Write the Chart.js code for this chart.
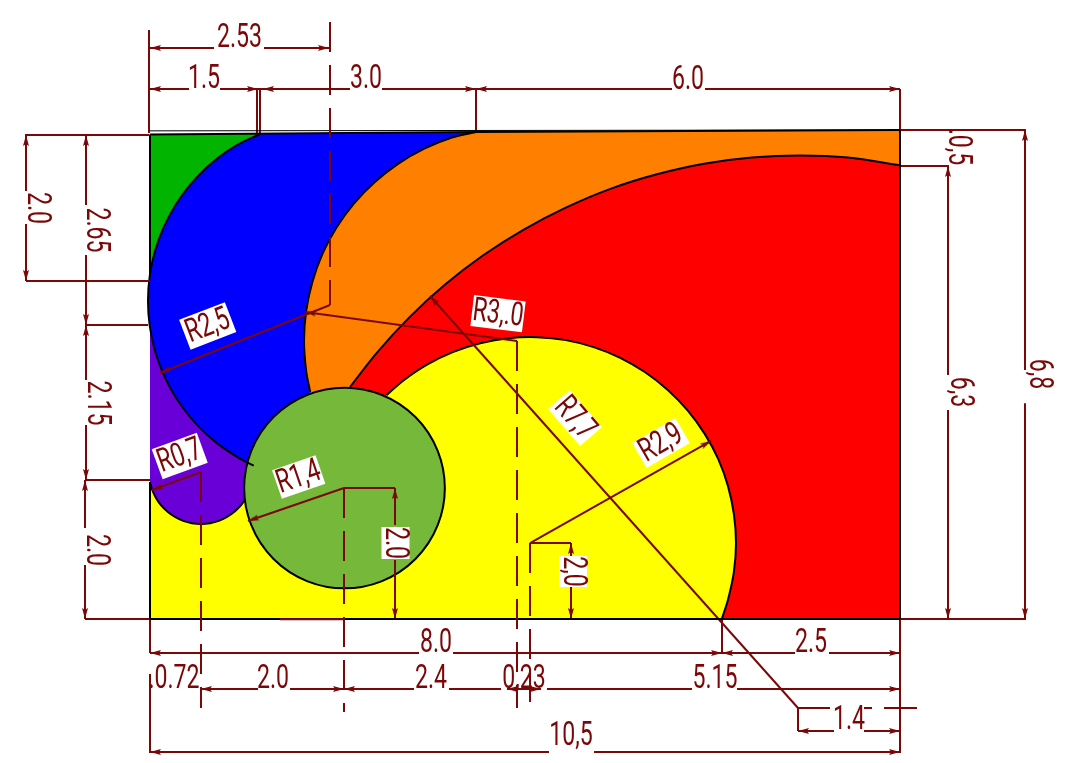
<!DOCTYPE html>
<html>
<head>
<meta charset="utf-8">
<title>Chart</title>
<script src="https://cdn.jsdelivr.net/npm/chart.js@4"></script>
<style>
  html, body { margin: 0; padding: 0; background: #fff; }
  canvas { display: block; }
</style>
</head>
<body>
<canvas id="myChart" width="1078" height="763"></canvas>
<script>
// everything below is in drawing units (the 10,5 x 6,8 part)
const blueArc = [[1.54,6.745],[1.239,6.604],[0.945,6.407],[0.684,6.173],[0.456,5.904],[0.268,5.604],[0.124,5.284],[0.028,4.947],[-0.022,4.599],[-0.022,4.247],[0.028,3.899],[0.124,3.562],[0.268,3.242],[0.456,2.942],[0.684,2.673],[0.945,2.439],[1.239,2.242],[1.452,2.132]];
const orangeArc = [[4.564,6.774],[4.226,6.698],[3.84,6.543],[3.477,6.335],[3.148,6.079],[2.857,5.781],[2.611,5.445],[2.414,5.079],[2.273,4.689],[2.186,4.281],[2.156,3.867],[2.186,3.453],[2.243,3.156]];
const redArc = [[2.8,3.227],[3.175,3.703],[3.631,4.196],[4.127,4.649],[4.66,5.056],[5.233,5.417],[5.829,5.725],[6.455,5.986],[7.097,6.185],[7.755,6.332],[8.426,6.418],[9.1,6.447],[9.774,6.418],[10.5,6.31]];
const yellowArc = [[3.31,3.111],[3.544,3.315],[3.878,3.538],[4.239,3.713],[4.622,3.836],[5.019,3.906],[5.421,3.92],[5.821,3.879],[6.211,3.782],[6.583,3.633],[6.932,3.432],[7.249,3.186],[7.529,2.899],[7.766,2.575],[7.956,2.223],[8.092,1.848],[8.175,1.455],[8.204,1.057],[8.175,0.659],[8.092,0.267],[8.005,0]];
const purpleArc = [[0,1.906],[0.03,1.798],[0.084,1.684],[0.156,1.58],[0.246,1.491],[0.35,1.419],[0.465,1.365],[0.587,1.333],[0.714,1.322],[0.841,1.333],[0.963,1.365],[1.078,1.419],[1.182,1.491],[1.272,1.58],[1.328,1.656]];
const circleCentre = [2.723, 1.822];
const circleRadius = 1.405;

const topLine = [0,6.79,10.5,6.802];
const frameLines = [
  [0,6.739,4.564,6.774],
  [4.564,6.774,10.5,6.802],
  [0,6.739,0,4.8],
  [0,1.906,0,0],
  [0,0,10.5,0],
  [10.5,0,10.5,6.8]
];

const dimLines = [
  [-0.014,8.193,-0.014,6.76],
  [-0.014,7.943,0.896,7.943], [1.596,7.943,2.52,7.943],
  [0,7.372,0.546,7.372], [0.98,7.372,1.582,7.372], [1.582,7.372,2.8,7.372], [3.248,7.372,4.564,7.372],
  [4.564,7.372,7.308,7.372], [7.77,7.372,10.5,7.372],
  [1.498,7.372,1.498,6.74], [1.54,7.372,1.54,6.74], [4.564,7.372,4.564,6.774],
  [10.5,7.372,10.5,-1.864],
  [-1.75,6.732,-0.014,6.732], [-1.736,4.702,0,4.702],
  [-1.736,6.732,-1.736,5.953], [-1.736,5.494,-1.736,4.702],
  [-0.896,6.732,-0.896,5.759], [-0.896,5.063,-0.896,4.09],
  [-0.896,4.09,-0.028,4.09],
  [-0.896,4.09,-0.896,3.325], [-0.896,2.699,-0.896,1.933],
  [-0.91,1.933,0,1.933],
  [-0.91,1.933,-0.91,1.266], [-0.91,0.751,-0.91,0],
  [-0.91,0,0,0],
  [0,0,0,-0.473],
  [0,-0.473,3.766,-0.473], [4.242,-0.473,8.008,-0.473],
  [8.008,-0.473,9.03,-0.473], [9.506,-0.473,10.5,-0.473],
  [8.008,0,8.008,-0.473],
  [0,-0.765,0,-1.864],
  [0.714,-0.974,1.512,-0.974], [1.96,-0.974,3.696,-0.974], [4.186,-0.974,4.914,-0.974],
  [4.998,-0.974,5.474,-0.974], [5.558,-0.974,7.588,-0.974], [8.218,-0.974,10.5,-0.974],
  [3.92,4.493,9.072,-1.238],
  [9.072,-1.238,9.072,-1.558],
  [9.072,-1.238,9.52,-1.238], [9.996,-1.238,10.108,-1.238], [10.276,-1.238,10.738,-1.238],
  [9.072,-1.558,9.576,-1.558], [9.996,-1.558,10.5,-1.558],
  [0,-1.85,5.586,-1.85], [6.216,-1.85,10.5,-1.85],
  [10.5,6.802,12.264,6.802], [10.5,6.301,11.186,6.301], [10.5,0,12.264,0],
  [12.25,6.802,12.25,3.464], [12.25,3.0,12.25,0],
  [11.172,6.301,11.172,3.394], [11.172,2.907,11.172,0],
  [2.52,4.368,0.14,3.422],
  [0.714,2.045,0.028,1.794],
  [2.716,1.822,1.372,1.363],
  [2.716,1.822,3.43,1.822],
  [3.43,1.822,3.43,1.308], [3.43,0.821,3.43,0],
  [5.138,3.867,2.17,4.27],
  [5.32,1.057,7.854,2.476],
  [5.32,1.057,5.894,1.057],
  [5.894,1.057,5.894,0.862], [5.894,0.445,5.894,0]
];

// the short maroon stretch that lies on top of the bottom edge
const edgeLines = [[1.82,-0.004,2.716,-0.004]];

const centreLines = [
  [2.52,8.304,2.52,4.368],
  [0.714,2.045,0.714,-1.238],
  [2.716,1.822,2.716,-1.294],
  [5.138,3.867,5.138,-1.238],
  [5.32,1.057,5.32,-1.238]
];

// tip x, tip y, direction in degrees clockwise from up
const arrowTips = [
  [0,7.943,270],[2.506,7.943,90],[0,7.372,270],[1.512,7.372,90],[1.582,7.372,270],[4.564,7.372,90],[4.564,7.372,270],[10.5,7.372,90],
  [-1.736,6.732,0],[-1.736,4.702,180],[-0.896,6.732,0],[-0.896,4.09,180],[-0.896,4.09,0],[-0.896,1.933,180],[-0.91,1.933,0],[-0.91,0,180],
  [0,-0.473,270],[8.008,-0.473,90],[8.008,-0.473,270],[10.5,-0.473,90],
  [0.714,-0.974,270],[2.716,-0.974,90],[2.716,-0.974,270],[4.998,-0.974,270],[5.474,-0.974,90],[10.5,-0.974,90],
  [9.072,-1.558,270],[10.5,-1.558,90],[0,-1.85,270],[10.5,-1.85,90],
  [12.25,6.802,0],[12.25,0,180],[11.172,6.301,0],[11.172,0,180],
  [0.14,3.422,248],[0.028,1.794,249],[1.372,1.363,251],[2.17,4.27,278],[3.92,4.493,318],[7.854,2.476,61],
  [3.43,1.822,0],[3.43,0,180],[5.894,1.057,0],[5.894,0,180]
];

// text, x, y, rotation
const plainLabels = [
  ["2.53",1.253,8.089,0],["1.5",0.756,7.511,0],["3.0",3.024,7.511,0],["6.0",7.532,7.497,0],
  ["2.0",-1.582,5.717,90],["2.65",-0.756,5.411,90],["2.15",-0.742,3.005,90],["2.0",-0.756,0.96,90],
  ["8.0",4.004,-0.334,0],["2.5",9.254,-0.334,0],
  [".0.72",0.336,-0.835,0],["2.0",1.722,-0.835,0],["2.4",3.934,-0.835,0],["0,23",5.236,-0.835,0],["5.15",7.91,-0.835,0],
  ["1.4",9.786,-1.405,0],["10,5",5.894,-1.627,0],
  [".0,5",11.312,6.566,90],["6,3",11.34,3.158,90],["6,8",12.446,3.408,90]
];

// text, x, y, rotation, box length, box height
const boxedLabels = [
  ["R2,5",0.808,4.076,-21,49,32],["R0,7",0.416,2.267,-20,48,32],["R1,4",2.082,1.975,-19,46,30],
  ["2.0",3.437,1.057,90,32,28],["R3,.0",4.872,4.247,7,52,31],["R7,7",5.95,2.796,49,49,29],
  ["R2,9",7.154,2.448,-30,50,29],["2,0",5.922,0.661,90,31,28]
];

const maroon = "#7a0808";
const textFont = "400 33px Roboto";
const textSqueeze = 0.7;

function pts(list) {
  return list.map(p => ({ x: p[0], y: p[1] }));
}

// doubling a point gives a hard corner when the line has tension
function shape() {
  let out = [];
  for (let part of arguments) {
    out.push(part[0]);
    out = out.concat(part);
    out.push(part[part.length - 1]);
  }
  return pts(out);
}

function fillSet(data, color) {
  return { data: data, showLine: true, fill: "shape", backgroundColor: color, borderWidth: 0, pointRadius: 0, tension: 0.334 };
}

function lineSet(list, color, width, dash, tension) {
  return { data: pts(list), showLine: true, fill: false, borderColor: color, borderWidth: width, borderDash: dash, pointRadius: 0, tension: tension, borderCapStyle: "butt" };
}

function segment(s) {
  let out = [];
  for (let i = 0; i < s.length; i += 2) out.push([s[i], s[i + 1]]);
  return out;
}

function arrowHead() {
  let c = document.createElement("canvas");
  c.width = 26;
  c.height = 26;
  let g = c.getContext("2d");
  g.fillStyle = maroon;
  g.beginPath();
  g.moveTo(13, 13);
  g.lineTo(16, 24);
  g.lineTo(13, 22);
  g.lineTo(10, 24);
  g.closePath();
  g.fill();
  return c;
}

let datasets = [];
datasets.push(fillSet(shape([[0,6.739]], [[1.54,6.745]], [[0,4.86]]), "#00b400"));
datasets.push(fillSet(shape([[4.564,6.774],[10.5,6.802]], [[10.5,3]], [[2.243,3.156]], orangeArc.slice().reverse()), "#ff8000"));
datasets.push(fillSet(shape(redArc, [[10.5,0]], [[7,0]]), "#ff0000"));
datasets.push(fillSet(shape([[0,0]], [[0,1.906]], [circleCentre], yellowArc), "#ffff00"));
datasets.push(fillSet(shape([[0,4.09]], purpleArc, [[2,2.4]], [[1,3.5]]), "#6a00d8"));
datasets.push(fillSet(shape([[1.54,6.745]], orangeArc, [circleCentre], blueArc.slice().reverse()), "#0000ff"));
for (let arc of [orangeArc, redArc, yellowArc, purpleArc]) datasets.push(lineSet(arc, "#000", 2, [], 0.334));
datasets.push({
  data: pts([circleCentre]),
  showLine: false,
  pointBackgroundColor: "#76b83a",
  pointBorderColor: "#000",
  pointBorderWidth: 2,
  pointRadius: c => c.chart.scales.x.getPixelForValue(circleRadius) - c.chart.scales.x.getPixelForValue(0)
});
datasets.push(lineSet(blueArc, "#000", 2, [], 0.334));
for (let s of dimLines) datasets.push(lineSet(segment(s), maroon, 2, [], 0));
datasets.push(lineSet(segment(topLine), "#000", 1, [], 0));
for (let s of frameLines) datasets.push(lineSet(segment(s), "#000", 2, [], 0));
for (let s of edgeLines) datasets.push(lineSet(segment(s), maroon, 2, [], 0));
for (let s of centreLines) datasets.push(lineSet(segment(s), maroon, 2, [30, 13], 0));
datasets.push({
  data: pts(arrowTips),
  showLine: false,
  pointStyle: arrowHead(),
  pointRotation: arrowTips.map(a => a[2])
});
// first dataset in the list is painted last
datasets.reverse();

const labelPlugin = {
  id: "labels",
  afterDatasetsDraw(chart) {
    let ctx = chart.ctx;
    let sx = chart.scales.x;
    let sy = chart.scales.y;
    function put(l) {
      ctx.save();
      ctx.translate(sx.getPixelForValue(l[1]), sy.getPixelForValue(l[2]));
      ctx.rotate(l[3] * Math.PI / 180);
      if (l[4]) {
        ctx.fillStyle = "#fff";
        ctx.fillRect(-l[4] / 2, -l[5] / 2, l[4], l[5]);
      }
      ctx.scale(textSqueeze, 1);
      ctx.fillStyle = maroon;
      ctx.font = textFont;
      ctx.textAlign = "center";
      ctx.textBaseline = "middle";
      ctx.fillText(l[0], 0, 1);
      ctx.restore();
    }
    plainLabels.forEach(put);
    boxedLabels.forEach(put);
  }
};

new Chart(document.getElementById("myChart"), {
  type: "scatter",
  data: { datasets: datasets },
  options: {
    responsive: false,
    animation: false,
    events: [],
    layout: { padding: 0, autoPadding: false },
    plugins: { legend: { display: false }, tooltip: { enabled: false } },
    scales: {
      x: { type: "linear", display: false, min: -2.1, max: 12.992 },
      y: { type: "linear", display: false, min: -2.003, max: 8.61 }
    }
  },
  plugins: [labelPlugin]
});
</script>
</body>
</html>
